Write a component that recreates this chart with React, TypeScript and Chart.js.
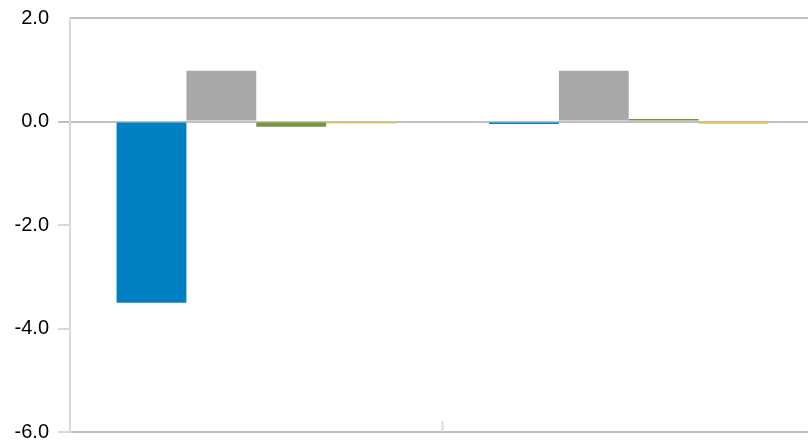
import React, { useEffect, useRef } from "react";
import { Chart, registerables } from "chart.js";

Chart.register(...registerables);

const categories = ["A", "B"];
const seriesBlue = [-3.5, -0.05];
const seriesGray = [0.98, 0.98];
const seriesGreen = [-0.1, 0.05];
const seriesYellow = [-0.04, -0.045];
const yTicks = [2, 0, -2, -4, -6];

const innerTickPlugin = {
  id: "innerCategoryTick",
  afterDraw(chart: any) {
    const x = chart.scales.x;
    const area = chart.chartArea;
    const ctx = chart.ctx;
    ctx.save();
    ctx.strokeStyle = "#d9d9d9";
    ctx.lineWidth = 2;
    for (let i = 0; i < categories.length - 1; i++) {
      const px = (x.getPixelForValue(i) + x.getPixelForValue(i + 1)) / 2;
      ctx.beginPath();
      ctx.moveTo(px, area.bottom);
      ctx.lineTo(px, area.bottom - 11);
      ctx.stroke();
    }
    ctx.restore();
  },
};

const CANVAS_W = 815;
const CANVAS_H = 440;

export default function App() {
  const ref = useRef<HTMLCanvasElement | null>(null);
  useEffect(() => {
    if (!ref.current) return;
    const chart = new Chart(ref.current, {
      type: "bar",
      data: {
        labels: categories,
        datasets: [
          { data: seriesBlue, backgroundColor: "#0080C3" },
          { data: seriesGray, backgroundColor: "#A8A8A8" },
          { data: seriesGreen, backgroundColor: "#77933C" },
          { data: seriesYellow, backgroundColor: "#F5C330" },
        ],
      },
      options: {
        animation: false,
        responsive: false,
        maintainAspectRatio: false,
        layout: { padding: { top: 18, bottom: 0, left: 0, right: 0 } },
        plugins: { legend: { display: false }, tooltip: { enabled: false } },
        datasets: { bar: { barPercentage: 1, categoryPercentage: 0.75 } },
        scales: {
          x: {
            ticks: { display: false },
            grid: { display: false },
            border: { display: true, color: "#c0c0c0", width: 2 },
            afterFit: (s: any) => {
              s.paddingLeft = 0;
              s.paddingRight = 0;
            },
          },
          y: {
            min: -6,
            max: 2,
            afterFit: (s: any) => {
              s.width = 70;
              s.paddingTop = 0;
              s.paddingBottom = 0;
            },
            afterBuildTicks: (s: any) => {
              s.ticks = yTicks.map((v) => ({ value: v }));
            },
            ticks: {
              color: "#000",
              padding: 9,
              font: { family: "'Liberation Sans', Arial, sans-serif", size: 20 },
              callback: (v: any) => Number(v).toFixed(1),
            },
            grid: {
              drawOnChartArea: true,
              color: (c: any) =>
                c.tick && (c.tick.value === 0 || c.tick.value === 2) ? "#c0c0c0" : "rgba(0,0,0,0)",
              lineWidth: 2,
              tickColor: (c: any) =>
                c.tick && c.tick.value === 0 ? "#c0c0c0" : c.tick && c.tick.value === 2 ? "rgba(0,0,0,0)" : "#d9d9d9",
              tickWidth: 2,
              tickLength: 12,
            },
            border: { display: true, color: "#d9d9d9", width: 2 },
          },
        },
      },
      plugins: [innerTickPlugin],
    });
    return () => chart.destroy();
  }, []);
  return (
    <div style={{ position: "absolute", left: 0, top: 0, width: 808, height: 440, overflow: "hidden" }}>
      <canvas ref={ref} width={CANVAS_W} height={CANVAS_H} style={{ display: "block" }} />
    </div>
  );
}
